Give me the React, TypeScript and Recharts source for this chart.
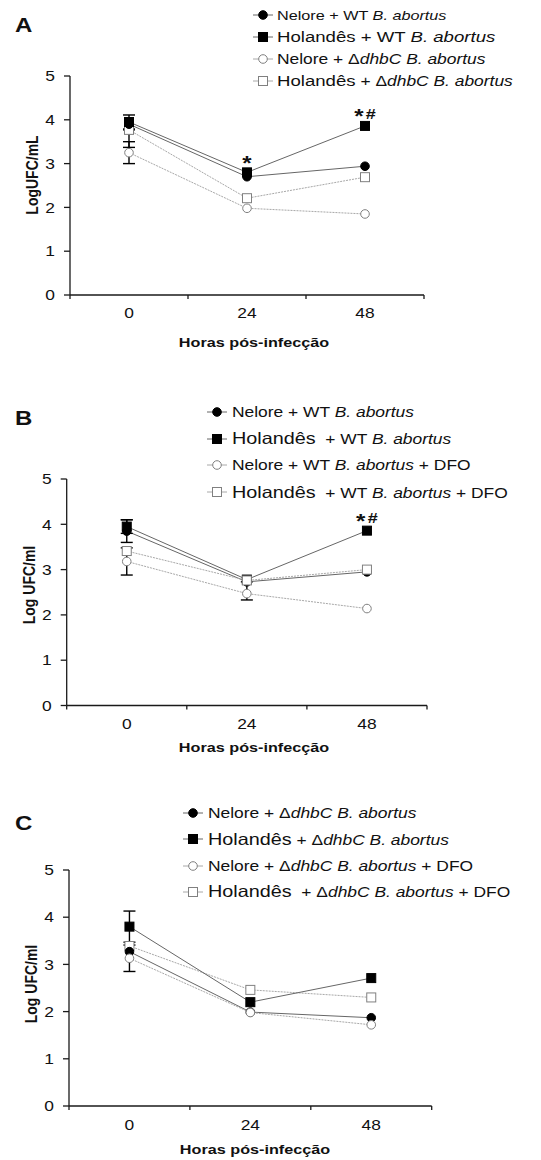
import React from 'react';
import { LineChart, Line, XAxis, YAxis, Legend, ErrorBar, LabelList } from 'recharts';

const FONT = '"Liberation Sans", Arial, Helvetica, sans-serif';
const SX = 1.2; // the figure is stretched sideways

const HOURS = [0, 24, 48];
const X_TICKS = [-12, 0, 12, 24, 36, 48, 60];
const Y_TICKS = [0, 1, 2, 3, 4, 5];

// panel A
const A_NELORE_WT = [3.9, 2.7, 2.94];
const A_HOL_WT = [3.95, 2.8, 3.86];
const A_NELORE_DHBC = [3.25, 1.98, 1.85];
const A_HOL_DHBC = [3.77, 2.21, 2.69];
const A_HOL_WT_ERR = [0.16, 0, 0];
const A_NELORE_DHBC_ERR = [0.25, 0, 0];
const A_HOL_DHBC_ERR = [[0.4, 0], 0, 0];
const A_NOTES = ['', '*', '*#'];

// panel B
const B_NELORE_WT = [3.85, 2.73, 2.95];
const B_HOL_WT = [3.95, 2.78, 3.86];
const B_NELORE_DFO = [3.18, 2.47, 2.14];
const B_HOL_DFO = [3.41, 2.76, 3.0];
const B_HOL_WT_ERR = [0.15, 0, 0];
const B_NELORE_WT_ERR = [0.25, [0.4, 0], 0];
const B_NELORE_DFO_ERR = [0.3, 0, 0];
const B_NOTES = ['', '', '*#'];

// panel C
const C_NELORE_DHBC = [3.27, 1.99, 1.87];
const C_HOL_DHBC = [3.8, 2.2, 2.71];
const C_NELORE_DFO = [3.13, 1.98, 1.72];
const C_HOL_DFO = [3.39, 2.46, 2.3];
const C_HOL_DHBC_ERR = [0.33, 0, 0];
const C_NELORE_DFO_ERR = [0.28, 0, 0];
const C_NOTES = ['', '', ''];

const A_LEGEND = [
  [['Nelore + WT ', 'n'], ['B. abortus', 'i']],
  [['Holandês + WT ', 'b'], ['B. abortus', 'bi']],
  [['Nelore + Δ', 'm'], ['dhbC B. abortus', 'mi']],
  [['Holandês', 'b'], [' + Δ', 'm'], ['dhbC B. abortus', 'mi']],
];
const B_LEGEND = [
  [['Nelore + WT ', 'n'], ['B. abortus', 'i']],
  [['Holandês', 'b'], ['  + WT ', 'n'], ['B. abortus', 'i']],
  [['Nelore + WT ', 'n'], ['B. abortus', 'i'], [' + DFO', 'n']],
  [['Holandês', 'b'], ['  + WT ', 'n'], ['B. abortus', 'i'], [' + DFO', 'n']],
];
const C_LEGEND = [
  [['Nelore + Δ', 'n'], ['dhbC B. abortus', 'i']],
  [['Holandês', 'b'], [' + Δ', 'n'], ['dhbC B. abortus', 'i']],
  [['Nelore + Δ', 'n'], ['dhbC B. abortus', 'i'], [' + DFO', 'n']],
  [['Holandês', 'b'], ['  + Δ', 'n'], ['dhbC B. abortus', 'i'], [' + DFO', 'n']],
];

// shapes shared by every panel: filled circle, filled square, open circle, open square
const SHAPES = [
  { shape: 'circle', filled: true },
  { shape: 'square', filled: true },
  { shape: 'circle', filled: false },
  { shape: 'square', filled: false },
];

const buildRows = (values: number[][], errs: (any[] | null)[], notes: string[]) =>
  HOURS.map((h, i) => {
    const row: any = { h, note: notes[i] };
    values.forEach((v, k) => {
      row['v' + k] = v[i];
      row['e' + k] = errs[k] ? errs[k]![i] : 0;
    });
    return row;
  });

const PANELS = [
  {
    letter: 'A', top: 0, height: 360, letterY: 32,
    margin: { top: 76, right: 117, bottom: 35, left: 30 },
    rows: buildRows([A_NELORE_WT, A_HOL_WT, A_NELORE_DHBC, A_HOL_DHBC], [null, A_HOL_WT_ERR, A_NELORE_DHBC_ERR, A_HOL_DHBC_ERR], A_NOTES),
    legend: A_LEGEND, order: [3, 2, 0, 1],
    yLabel: 'LogUFC/mL', yLabelPos: [38, 175], xLabelPos: [254, 347], tickDy: 23,
    leg: { top: 4, left: 253, rowH: 22, gap: 4, size: 13.5, mid: 14.5, big: 15.5 },
  },
  {
    letter: 'B', top: 370, height: 390, letterY: 425,
    margin: { top: 109, right: 114, bottom: 24.5, left: 26.7 },
    rows: buildRows([B_NELORE_WT, B_HOL_WT, B_NELORE_DFO, B_HOL_DFO], [B_NELORE_WT_ERR, B_HOL_WT_ERR, B_NELORE_DFO_ERR, null], B_NOTES),
    legend: B_LEGEND, order: [2, 0, 1, 3],
    yLabel: 'Log UFC/ml', yLabelPos: [35, 215], xLabelPos: [254, 382], tickDy: 23.5,
    leg: { top: 28.7, left: 207, rowH: 26.7, gap: 5, size: 14.5, mid: 14.5, big: 16.5 },
  },
  {
    letter: 'C', top: 770, height: 390, letterY: 830,
    margin: { top: 100, right: 109.3, bottom: 24, left: 29 },
    rows: buildRows([C_NELORE_DHBC, C_HOL_DHBC, C_NELORE_DFO, C_HOL_DFO], [null, C_HOL_DHBC_ERR, C_NELORE_DFO_ERR, null], C_NOTES),
    legend: C_LEGEND, order: [3, 0, 1, 2],
    yLabel: 'Log UFC/ml', yLabelPos: [37, 214], xLabelPos: [255, 384], tickDy: 24,
    leg: { top: 29.8, left: 183, rowH: 26.3, gap: 5, size: 14.5, mid: 14.5, big: 16.5 },
  },
];

const AXIS = '#1a1a1a';
const lineColor = (filled: boolean) => (filled ? '#666' : '#a8a8a8');

const makeDot = (shape: string, filled: boolean) => (p: any) => {
  const { cx, cy, index } = p;
  if (cx == null || cy == null) return <g key={index} />;
  const fill = filled ? '#000' : '#fff';
  const stroke = filled ? '#000' : '#808080';
  return shape === 'circle' ? (
    <circle key={index} cx={cx} cy={cy} r={4.3} fill={fill} stroke={stroke} strokeWidth={1} />
  ) : (
    <rect key={index} x={cx - 4.5} y={cy - 4.5} width={9} height={9} fill={fill} stroke={stroke} strokeWidth={1} />
  );
};

const SText = ({ x, y, size, bold, anchor = 'middle', children }: any) => (
  <text
    transform={`translate(${x},${y}) scale(${SX},1)`}
    textAnchor={anchor}
    fontSize={size}
    fontWeight={bold ? 'bold' : 'normal'}
    fontFamily={FONT}
    fill="#111"
  >
    {children}
  </text>
);

const makeXTick = (dy: number) => (p: any) => {
  const { x, y, payload } = p;
  const v = payload.value;
  if (HOURS.includes(v)) {
    return <SText x={x} y={y + dy} size={14.5}>{v}</SText>;
  }
  return <line x1={x} x2={x} y1={y} y2={y + 4} stroke={AXIS} strokeWidth={1.3} />;
};

const YTick = (p: any) => {
  const { x, y, payload } = p;
  return (
    <g>
      <line x1={x - 6} x2={x} y1={y} y2={y} stroke={AXIS} strokeWidth={1.3} />
      <SText x={x - 15} y={y + 5.2} size={14.5} anchor="end">{payload.value}</SText>
    </g>
  );
};

const NoteLabel = (p: any) => {
  const { x, y, value } = p;
  if (!value) return null;
  const star = value[0];
  const rest = value.slice(1);
  return (
    <text
      transform={`translate(${x},${y - 2.8}) scale(${SX},1)`}
      textAnchor="middle"
      fontFamily={FONT}
      fontWeight="bold"
      fill="#111"
    >
      <tspan fontSize={20}>{star}</tspan>
      {rest ? <tspan fontSize={15} dy={-4.5} dx={2}>{rest}</tspan> : null}
    </text>
  );
};

const LegendMarker = ({ shape, filled }: any) => (
  <svg width={20} height={12} style={{ flex: 'none', display: 'block' }}>
    <line x1={0} x2={20} y1={6} y2={6} stroke={lineColor(filled)} strokeWidth={1} />
    {shape === 'circle' ? (
      <circle cx={10} cy={6} r={4.3} fill={filled ? '#000' : '#fff'} stroke={filled ? '#000' : '#808080'} />
    ) : (
      <rect x={5.5} y={1.5} width={9} height={9} fill={filled ? '#000' : '#fff'} stroke={filled ? '#000' : '#808080'} />
    )}
  </svg>
);

const segSize = (st: string, leg: any) => (st.includes('b') ? leg.big : st.includes('m') ? leg.mid : leg.size);

const LegendBox = ({ items, leg }: any) => (
  <div style={{ fontFamily: FONT, color: '#111' }}>
    {items.map((segs: any[], k: number) => (
      <div key={k} style={{ display: 'flex', alignItems: 'center', height: leg.rowH }}>
        <LegendMarker {...SHAPES[k]} />
        <span
          style={{
            display: 'inline-block',
            marginLeft: leg.gap,
            whiteSpace: 'pre',
            transform: `scaleX(${SX})`,
            transformOrigin: 'left center',
          }}
        >
          {segs.map(([t, st]: string[], j: number) => (
            <span
              key={j}
              style={{
                fontSize: segSize(st, leg),
                fontStyle: st.includes('i') ? 'italic' : 'normal',
              }}
            >
              {t}
            </span>
          ))}
        </span>
      </div>
    ))}
  </div>
);

const Panel = ({ cfg }: any) => (
  <div style={{ position: 'absolute', left: 0, top: cfg.top, width: 541, height: cfg.height }}>
    <LineChart width={541} height={cfg.height} data={cfg.rows} margin={cfg.margin}>
      <XAxis
        type="number"
        dataKey="h"
        domain={[-12, 60]}
        ticks={X_TICKS}
        interval={0}
        height={30}
        tickSize={0}
        tickMargin={0}
        tickLine={false}
        axisLine={{ stroke: AXIS, strokeWidth: 1.3 }}
        tick={makeXTick(cfg.tickDy)}
        label={{
          content: () => (
            <SText x={cfg.xLabelPos[0]} y={cfg.xLabelPos[1]} size={13.5} bold>
              Horas pós-infecção
            </SText>
          ),
        }}
      />
      <YAxis
        type="number"
        domain={[0, 5]}
        ticks={Y_TICKS}
        interval={0}
        width={40}
        tickSize={0}
        tickMargin={0}
        tickLine={false}
        axisLine={{ stroke: AXIS, strokeWidth: 1.3 }}
        tick={YTick}
        label={{
          content: () => (
            <text
              transform={`translate(${cfg.yLabelPos[0]},${cfg.yLabelPos[1]}) rotate(-90) scale(1,${SX})`}
              textAnchor="middle"
              fontSize={14}
              fontWeight="bold"
              fontFamily={FONT}
              fill="#111"
            >
              {cfg.yLabel}
            </text>
          ),
        }}
      />
      <Legend
        layout="vertical"
        align="center"
        verticalAlign="middle"
        wrapperStyle={{ top: cfg.leg.top, left: cfg.leg.left, width: 330 }}
        content={() => <LegendBox items={cfg.legend} leg={cfg.leg} />}
      />
      {cfg.order.map((k: number) => {
        const s = SHAPES[k];
        return (
          <Line
            key={k}
            dataKey={'v' + k}
            stroke={lineColor(s.filled)}
            strokeWidth={1}
            strokeDasharray={s.filled ? undefined : '2 1'}
            dot={makeDot(s.shape, s.filled)}
            activeDot={false}
            isAnimationActive={false}
          >
            <ErrorBar dataKey={'e' + k} width={6} stroke="#000" strokeWidth={1.4} direction="y" />
            {k === 1 ? <LabelList dataKey="note" content={NoteLabel} /> : null}
          </Line>
        );
      })}
    </LineChart>
  </div>
);

const App = () => (
  <div style={{ position: 'absolute', left: 0, top: 0, width: 541, height: 1160, background: '#fff' }}>
    {PANELS.map((cfg) => (
      <React.Fragment key={cfg.letter}>
        <Panel cfg={cfg} />
        <div
          style={{
            position: 'absolute',
            left: 15,
            top: cfg.letterY - 17,
            fontFamily: FONT,
            fontWeight: 'bold',
            fontSize: 20,
            lineHeight: '20px',
            transform: `scaleX(${SX})`,
            transformOrigin: 'left top',
            color: '#111',
          }}
        >
          {cfg.letter}
        </div>
      </React.Fragment>
    ))}
  </div>
);

export default App;
